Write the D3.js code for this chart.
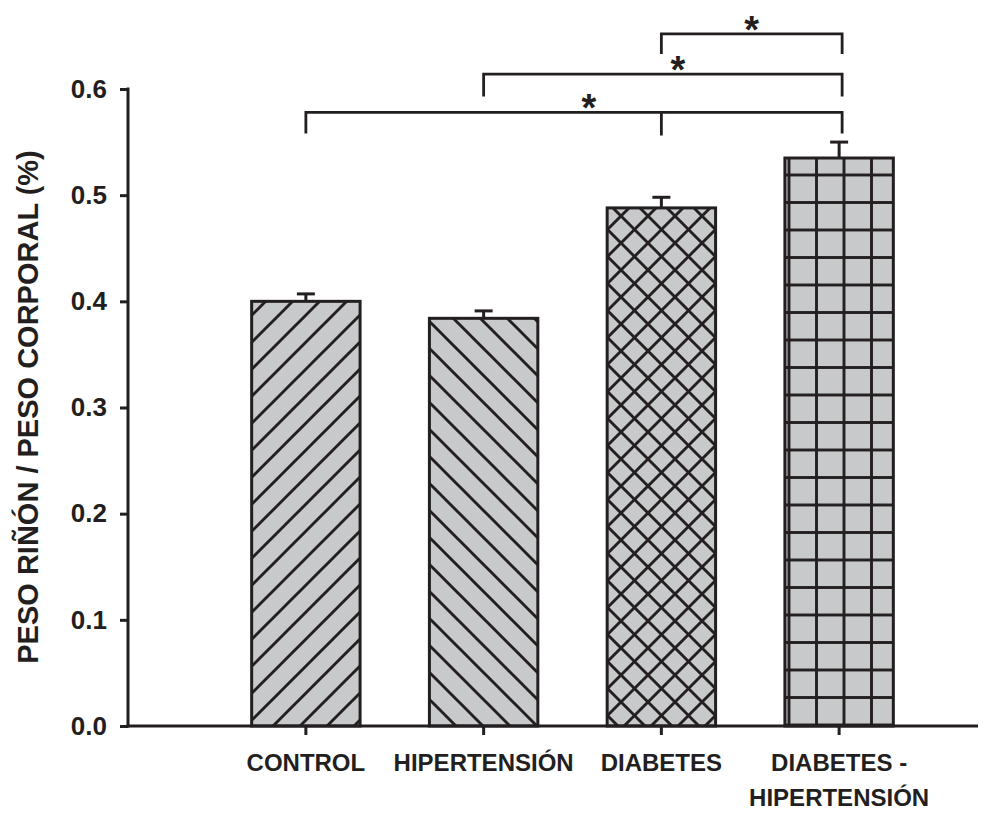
<!DOCTYPE html>
<meta charset="utf-8">
<style>
    body { margin: 0; background: white; }
    svg { display: block; font-family: "Liberation Sans", Arial, sans-serif; }
    .axis text { font-weight: bold; font-size: 26px; fill: #231f20; }
</style>
<svg width="1006" height="813"></svg>
<script src="https://cdn.jsdelivr.net/npm/d3@7"></script>
<script>
    // data
    var categories = ["CONTROL", "HIPERTENSIÓN", "DIABETES", "DIABETES - HIPERTENSIÓN"];
    var labelLines = [["CONTROL"], ["HIPERTENSIÓN"], ["DIABETES"], ["DIABETES -", "HIPERTENSIÓN"]];
    var means = [0.400, 0.384, 0.488, 0.535];
    var errors = [0.007, 0.007, 0.010, 0.015];
    var patterns = ["diag", "anti", "cross", "grid"];
    var yTicks = [0.0, 0.1, 0.2, 0.3, 0.4, 0.5, 0.6];

    // significance brackets: from, to, optional middle drop, level, leg end
    var bracketFrom = [0, 1, 2];
    var bracketTo = [3, 3, 3];
    var bracketMid = [2, null, null];
    var bracketLevel = [0.578, 0.614, 0.652];
    var bracketLeg = [0.558, 0.593, 0.633];

    var svg = d3.select("svg"),
        ink = "#231f20",
        gray = "#c8c9cb";

    var y = d3.scaleLinear().domain([0, 0.6]).range([726, 89]);
    var x = d3.scaleBand().domain(categories).range([217, 928])
        .paddingInner(0.39).paddingOuter(0.195);

    // hatch patterns
    var defs = svg.append("defs");
    var s = 27;

    function makePattern(id, paths, w, px, py) {
        var p = defs.append("pattern")
            .attr("id", id)
            .attr("patternUnits", "userSpaceOnUse")
            .attr("width", w).attr("height", w)
            .attr("x", px || 0).attr("y", py || 0);
        p.append("rect").attr("width", w).attr("height", w).attr("fill", gray);
        paths.forEach(function(d) {
            p.append("path").attr("d", d)
                .attr("stroke", ink).attr("stroke-width", 2.9).attr("fill", "none");
        });
    }

    makePattern("diag", ["M0," + s + "L" + s + ",0", "M-5,5L5,-5", "M" + (s - 5) + "," + (s + 5) + "L" + (s + 5) + "," + (s - 5)], s);
    makePattern("anti", ["M0,0L" + s + "," + s, "M-5," + (s - 5) + "L5," + (s + 5), "M" + (s - 5) + ",-5L" + (s + 5) + ",5"], s);
    makePattern("cross", ["M0," + s + "L" + s + ",0", "M-5,5L5,-5", "M" + (s - 5) + "," + (s + 5) + "L" + (s + 5) + "," + (s - 5),
        "M0,0L" + s + "," + s, "M-5," + (s - 5) + "L5," + (s + 5), "M" + (s - 5) + ",-5L" + (s + 5) + ",5"], s);
    var g2 = 27.5;
    makePattern("grid", ["M1.5,0V" + g2, "M0,1.5H" + g2], g2, 787.5, 726 - 551 - 1.5);

    // bars
    svg.selectAll(".bar")
        .data(categories)
        .enter().append("rect")
        .attr("class", "bar")
        .attr("x", function(d) { return x(d); })
        .attr("y", function(d, i) { return y(means[i]); })
        .attr("width", x.bandwidth())
        .attr("height", function(d, i) { return y(0) - y(means[i]); })
        .style("fill", function(d, i) { return "url(#" + patterns[i] + ")"; })
        .style("stroke", ink)
        .style("stroke-width", 3);

    // error bars (upper only)
    var cx = function(i) { return x(categories[i]) + x.bandwidth() / 2; };
    categories.forEach(function(d, i) {
        svg.append("line")
            .attr("x1", cx(i)).attr("x2", cx(i))
            .attr("y1", y(means[i])).attr("y2", y(means[i] + errors[i]))
            .style("stroke", ink).style("stroke-width", 3);
        svg.append("line")
            .attr("x1", cx(i) - 9).attr("x2", cx(i) + 9)
            .attr("y1", y(means[i] + errors[i])).attr("y2", y(means[i] + errors[i]))
            .style("stroke", ink).style("stroke-width", 3);
    });

    // y axis
    var yAxis = svg.append("g")
        .attr("class", "axis")
        .attr("transform", "translate(128,0)")
        .call(d3.axisLeft(y).tickValues(yTicks).tickFormat(d3.format(".1f"))
            .tickSize(8).tickPadding(13));
    yAxis.select(".domain").remove();
    yAxis.selectAll(".tick line").style("stroke", ink).style("stroke-width", 3);

    // x axis
    var xAxis = svg.append("g")
        .attr("class", "axis")
        .attr("transform", "translate(0,726)")
        .call(d3.axisBottom(x).tickSize(9).tickFormat(""));
    xAxis.select(".domain").remove();
    xAxis.selectAll(".tick line").style("stroke", ink).style("stroke-width", 3);

    svg.append("line")
        .attr("x1", 128).attr("x2", 128)
        .attr("y1", y(0.6) - 1.5).attr("y2", y(0) + 1.5)
        .style("stroke", ink).style("stroke-width", 3);
    svg.append("line")
        .attr("x1", 126.5).attr("x2", 978)
        .attr("y1", y(0)).attr("y2", y(0))
        .style("stroke", ink).style("stroke-width", 3);

    // category labels
    labelLines.forEach(function(lines, i) {
        var t = svg.append("text")
            .attr("x", cx(i))
            .attr("y", 771)
            .attr("text-anchor", "middle")
            .style("font-weight", "bold")
            .style("font-size", "24px")
            .style("fill", ink);
        lines.forEach(function(l, j) {
            t.append("tspan").attr("x", cx(i)).attr("dy", j ? 35 : 0).text(l);
        });
    });

    // y title
    svg.append("text")
        .attr("transform", "translate(38,407) rotate(-90)")
        .attr("text-anchor", "middle")
        .style("font-weight", "bold")
        .style("font-size", "29px")
        .style("fill", ink)
        .text("PESO RIÑÓN / PESO CORPORAL (%)");

    // significance brackets
    bracketFrom.forEach(function(f, k) {
        var x0 = cx(f), x1 = cx(bracketTo[k]) + 3,
            yl = y(bracketLevel[k]), yg = y(bracketLeg[k]);
        var d = "M" + x0 + "," + yg + "V" + yl + "H" + x1 + "V" + yg;
        if (bracketMid[k] !== null) d += "M" + cx(bracketMid[k]) + "," + yl + "V" + (yg + 2);
        svg.append("path")
            .attr("d", d)
            .style("fill", "none")
            .style("stroke", ink)
            .style("stroke-width", 2.8);
        svg.append("text")
            .attr("x", (x0 + x1) / 2 + (k < 2 ? 15 : 0))
            .attr("y", yl + 9)
            .attr("text-anchor", "middle")
            .style("font-weight", "bold")
            .style("font-size", "38px")
            .style("fill", ink)
            .text("*");
    });
</script>
